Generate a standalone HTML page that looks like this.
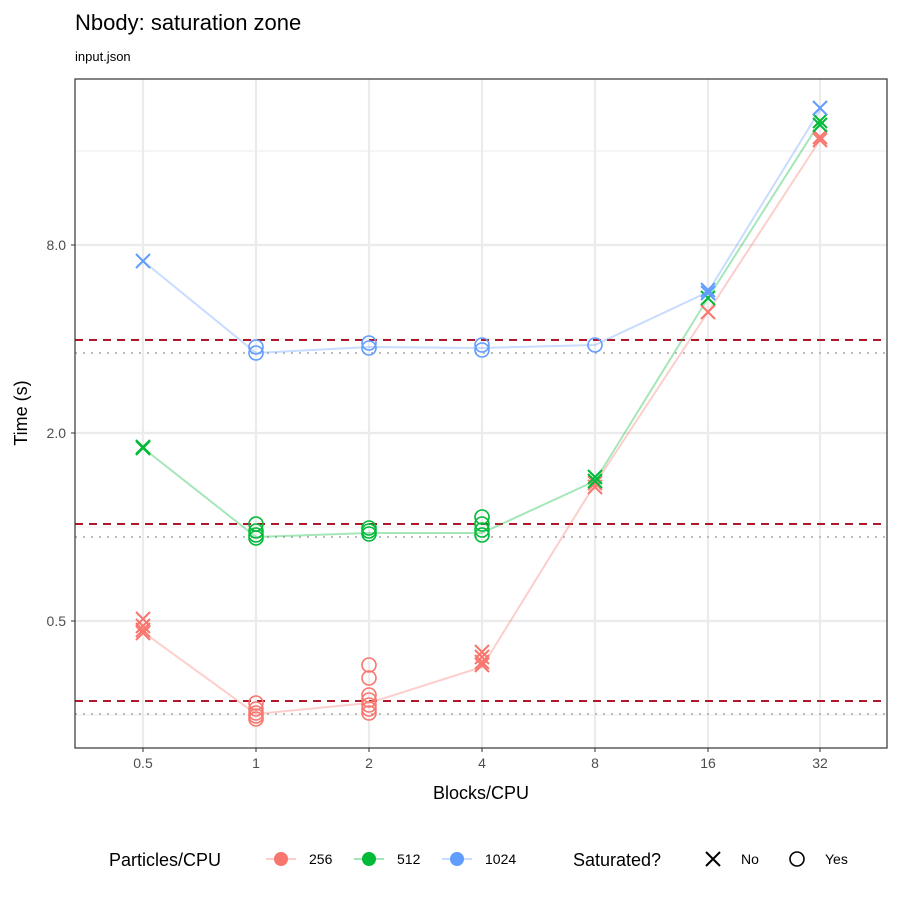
<!DOCTYPE html>
<html><head><style>body{margin:0;background:#fff}svg{display:block}text{font-family:"Liberation Sans",sans-serif}</style></head><body>
<svg width="900" height="900" viewBox="0 0 900 900">
<rect width="900" height="900" fill="#fff"/>
<text x="75" y="30" font-size="22">Nbody: saturation zone</text>
<text x="75" y="61" font-size="13">input.json</text>
<g stroke="#ebebeb" stroke-width="1">
<line x1="75" x2="887" y1="151" y2="151"/><line x1="75" x2="887" y1="339" y2="339"/><line x1="75" x2="887" y1="527" y2="527"/><line x1="75" x2="887" y1="715" y2="715"/>
</g>
<g stroke="#ebebeb" stroke-width="2.2">
<line x1="75" x2="887" y1="245" y2="245"/><line x1="75" x2="887" y1="433" y2="433"/><line x1="75" x2="887" y1="621" y2="621"/>
<line y1="79" y2="748" x1="143" x2="143"/><line y1="79" y2="748" x1="256" x2="256"/><line y1="79" y2="748" x1="369" x2="369"/><line y1="79" y2="748" x1="482" x2="482"/><line y1="79" y2="748" x1="595" x2="595"/><line y1="79" y2="748" x1="708" x2="708"/><line y1="79" y2="748" x1="820" x2="820"/>
</g>
<g stroke="#b2182b" stroke-width="2" stroke-dasharray="8,6" fill="none"><line x1="75" x2="887" y1="340" y2="340"/><line x1="75" x2="887" y1="524" y2="524"/><line x1="75" x2="887" y1="701" y2="701"/></g>
<g stroke="#bbb" stroke-width="2" stroke-dasharray="2,6" fill="none"><line x1="75" x2="887" y1="353" y2="353"/><line x1="75" x2="887" y1="537" y2="537"/><line x1="75" x2="887" y1="714" y2="714"/></g>
<g fill="none" stroke-width="2" opacity="0.35">
<polyline stroke="#F8766D" points="143,632 256,714 369,703 482,667 595,484 708,312 820,140"/>
<polyline stroke="#00BA38" points="143,448 256,537 369,533 482,533 595,481 708,298 820,122"/>
<polyline stroke="#619CFF" points="143,261 256,353 369,347 482,348 595,345 708,292 820,110"/>
</g>
<defs>
<path id="x" d="M-7,-7L7,7M-7,7L7,-7" stroke-width="2"/>
<circle id="o" r="7" fill="none" stroke-width="1.6"/>
</defs>
<g stroke="#F8766D" fill="none">
<use href="#x" x="143" y="619"/><use href="#x" x="143" y="626"/><use href="#x" x="143" y="630"/><use href="#x" x="143" y="633"/>
<use href="#o" x="256" y="703"/><use href="#o" x="256" y="709"/><use href="#o" x="256" y="713"/><use href="#o" x="256" y="716"/><use href="#o" x="256" y="719"/>
<use href="#o" x="369" y="665"/><use href="#o" x="369" y="678"/><use href="#o" x="369" y="695"/><use href="#o" x="369" y="700"/><use href="#o" x="369" y="705"/><use href="#o" x="369" y="709"/><use href="#o" x="369" y="713"/>
<use href="#x" x="482" y="652"/><use href="#x" x="482" y="657"/><use href="#x" x="482" y="662"/><use href="#x" x="482" y="665"/>
<use href="#x" x="595" y="483"/><use href="#x" x="595" y="487"/><use href="#x" x="708" y="312"/><use href="#x" x="820" y="137"/><use href="#x" x="820" y="140"/>
</g>
<g stroke="#00BA38" fill="none">
<use href="#x" x="143" y="447"/><use href="#x" x="143" y="448"/>
<use href="#o" x="256" y="524"/><use href="#o" x="256" y="531"/><use href="#o" x="256" y="535"/><use href="#o" x="256" y="538"/>
<use href="#o" x="369" y="528"/><use href="#o" x="369" y="531"/><use href="#o" x="369" y="534"/>
<use href="#o" x="482" y="517"/><use href="#o" x="482" y="524"/><use href="#o" x="482" y="530"/><use href="#o" x="482" y="535"/>
<use href="#x" x="595" y="477"/><use href="#x" x="595" y="481"/><use href="#x" x="708" y="298"/><use href="#x" x="820" y="121"/><use href="#x" x="820" y="125"/>
</g>
<g stroke="#619CFF" fill="none">
<use href="#x" x="143" y="261"/>
<use href="#o" x="256" y="347"/><use href="#o" x="256" y="353"/>
<use href="#o" x="369" y="343"/><use href="#o" x="369" y="348"/>
<use href="#o" x="482" y="345"/><use href="#o" x="482" y="350"/>
<use href="#o" x="595" y="345"/><use href="#x" x="708" y="290"/><use href="#x" x="708" y="293"/><use href="#x" x="820" y="108"/>
</g>
<rect x="75" y="79" width="812" height="669" fill="none" stroke="#333" stroke-width="1.2"/>
<g font-size="14" fill="#4d4d4d" text-anchor="end">
<text x="66" y="250">8.0</text><text x="66" y="438">2.0</text><text x="66" y="626">0.5</text>
</g>
<g stroke="#333"><line x1="71" x2="75" y1="245" y2="245"/><line x1="71" x2="75" y1="433" y2="433"/><line x1="71" x2="75" y1="621" y2="621"/>
<line x1="143" x2="143" y1="748" y2="752"/><line x1="256" x2="256" y1="748" y2="752"/><line x1="369" x2="369" y1="748" y2="752"/><line x1="482" x2="482" y1="748" y2="752"/><line x1="595" x2="595" y1="748" y2="752"/><line x1="708" x2="708" y1="748" y2="752"/><line x1="820" x2="820" y1="748" y2="752"/></g>
<g font-size="14" fill="#4d4d4d" text-anchor="middle">
<text x="143" y="768">0.5</text><text x="256" y="768">1</text><text x="369" y="768">2</text><text x="482" y="768">4</text><text x="595" y="768">8</text><text x="708" y="768">16</text><text x="820" y="768">32</text>
</g>
<text x="481" y="799" font-size="18" text-anchor="middle">Blocks/CPU</text>
<text transform="translate(27,413) rotate(-90)" font-size="18" text-anchor="middle">Time (s)</text>
<text x="109" y="866" font-size="18">Particles/CPU</text>
<g stroke-width="2" opacity="0.35"><line x1="266" x2="296" y1="859" y2="859" stroke="#F8766D"/><line x1="354" x2="384" y1="859" y2="859" stroke="#00BA38"/><line x1="442" x2="472" y1="859" y2="859" stroke="#619CFF"/></g>
<circle cx="281" cy="859" r="7" fill="#F8766D"/><circle cx="369" cy="859" r="7" fill="#00BA38"/><circle cx="457" cy="859" r="7" fill="#619CFF"/>
<g font-size="14"><text x="309" y="864">256</text><text x="397" y="864">512</text><text x="485" y="864">1024</text><text x="741" y="864">No</text><text x="825" y="864">Yes</text></g>
<text x="573" y="866" font-size="18">Saturated?</text>
<use href="#x" x="713" y="859" stroke="#000" transform="translate(0,0)"/>
<circle cx="797" cy="859" r="7" fill="none" stroke="#000" stroke-width="1.6"/>
</svg>
</body></html>
